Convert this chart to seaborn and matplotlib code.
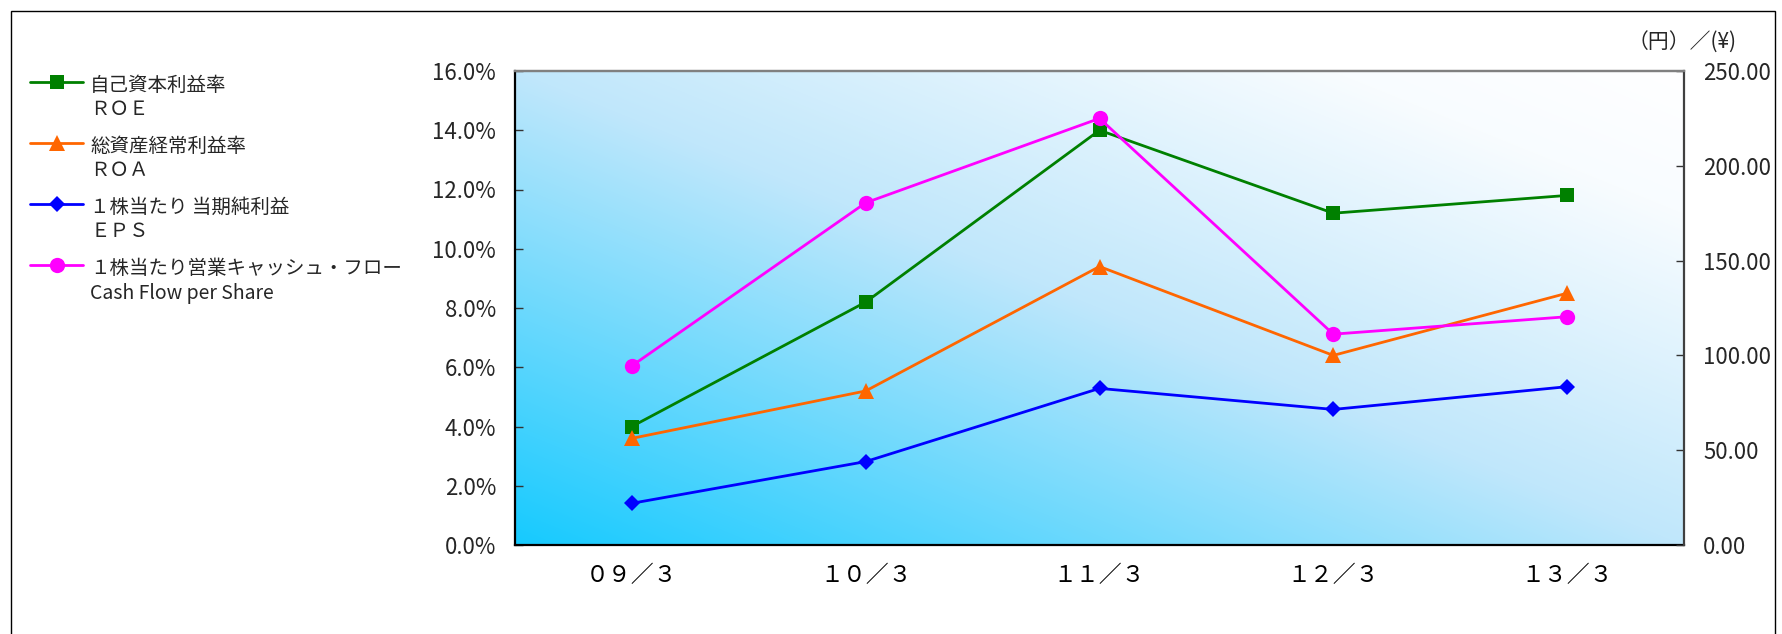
import numpy as np
import matplotlib
matplotlib.use("Agg")
import matplotlib.pyplot as plt
import seaborn as sns
from matplotlib.font_manager import FontProperties
from matplotlib.patches import Rectangle
from matplotlib.ticker import FuncFormatter

# ---------------- data ----------------
categories = ["０９／３", "１０／３", "１１／３", "１２／３", "１３／３"]
roe = [4.0, 8.2, 14.0, 11.2, 11.8]          # % (left axis)
roa = [3.6, 5.2, 9.4, 6.4, 8.5]             # % (left axis)
eps = [22.0, 44.0, 82.6, 71.5, 83.5]        # yen (right axis)
cfps = [94.5, 180.5, 225.0, 111.2, 120.4]   # yen (right axis)
legend_labels = [
    "自己資本利益率\nＲＯＥ",
    "総資産経常利益率\nＲＯＡ",
    "１株当たり 当期純利益\nＥＰＳ",
    "１株当たり営業キャッシュ・フロー\nCash Flow per Share",
]
left_ticks = [0, 2, 4, 6, 8, 10, 12, 14, 16]
right_ticks = [0, 50, 100, 150, 200, 250]
right_unit = "（円）／(¥)"

# ---------------- style ----------------
sns.set_style("white")
plt.rcParams["font.family"] = ["Noto Sans CJK JP", "DejaVu Sans"]

JP = "Noto Sans CJK JP"

W, H = 1782, 634
fig = plt.figure(figsize=(W / 100, H / 100), dpi=100)
ax = fig.add_axes([515 / W, 1 - 545 / H, (1684 - 515) / W, (545 - 71) / H])
ax2 = ax.twinx()

# gradient background
N = 300
u = np.linspace(0, 1, N)
U, V = np.meshgrid(u, u)
t = (U + V) / 2
stops = [0.0, 0.5, 0.85, 1.0]
r = np.interp(t, stops, [22, 192, 248, 255])
g = np.interp(t, stops, [202, 231, 252, 255])
b = np.interp(t, stops, [255, 251, 255, 255])
img = np.dstack([r, g, b]) / 255.0
ax.imshow(img, extent=[0, 1, 0, 1], transform=ax.transAxes, origin="lower",
          aspect="auto", zorder=0, interpolation="bilinear")

x = np.arange(len(categories))
common = dict(linewidth=2.0, legend=False, sort=False)
sns.lineplot(x=x, y=roe, ax=ax, color="#008000", marker="s", markersize=10.5,
             markeredgecolor="#008000", markeredgewidth=0, zorder=3, **common)
sns.lineplot(x=x, y=roa, ax=ax, color="#FF6600", marker="^", markersize=11.5,
             markeredgecolor="#FF6600", markeredgewidth=0, zorder=3, **common)
sns.lineplot(x=x, y=eps, ax=ax2, color="#0000FF", marker="D", markersize=7.8,
             markeredgecolor="#0000FF", markeredgewidth=0, zorder=3, **common)
sns.lineplot(x=x, y=cfps, ax=ax2, color="#FF00FF", marker="o", markersize=11,
             markeredgecolor="#FF00FF", markeredgewidth=0, zorder=4, **common)

ax.set_xlim(-0.5, len(categories) - 0.5)
ax.set_ylim(left_ticks[0], left_ticks[-1])
ax2.set_ylim(right_ticks[0], right_ticks[-1])

# x axis
ax.set_xticks(x)
ax.set_xticklabels(categories, fontproperties=FontProperties(family=JP, size=16.5))
ax.set_xticks(x[:-1] + 0.5, minor=True)
ax.tick_params(axis="x", which="major", length=0, pad=14, colors="black")
ax.tick_params(axis="x", which="minor", direction="in", length=6, width=1, color="black")

# left y axis
ax.set_yticks(left_ticks)
ax.yaxis.set_major_formatter(FuncFormatter(lambda v, p: f"{v:.1f}%"))
ax.tick_params(axis="y", direction="in", length=6, width=1, color="#333333", pad=13.7)
for lab in ax.get_yticklabels():
    lab.set_fontproperties(FontProperties(family=JP, size=16))

# right y axis
ax2.set_yticks(right_ticks)
ax2.yaxis.set_major_formatter(FuncFormatter(lambda v, p: f"{v:.2f}"))
ax2.tick_params(axis="y", direction="in", length=6, width=1, color="#333333", pad=13.7)
for lab in ax2.get_yticklabels():
    lab.set_fontproperties(FontProperties(family=JP, size=16))

ax.set_xlabel("")
ax.set_ylabel("")
ax2.set_ylabel("")

# spines
for a in (ax, ax2):
    for s in a.spines.values():
        s.set_linewidth(1.6)
ax.spines["left"].set_color("black")
ax.spines["bottom"].set_color("black")
ax.spines["top"].set_color("#808080")
ax.spines["right"].set_visible(False)
ax2.spines["left"].set_visible(False)
ax2.spines["bottom"].set_visible(False)
ax2.spines["top"].set_color("#808080")
ax2.spines["right"].set_color("#404040")

# unit label
fig.text(1737 / W, 1 - 43 / H, right_unit, ha="right", va="center",
         fontproperties=FontProperties(family=JP, size=15))

# legend
handles = [ax.lines[0], ax.lines[1], ax2.lines[0], ax2.lines[1]]
leg = fig.legend(handles, legend_labels, loc="upper left",
                 bbox_to_anchor=(30 / W, 1 - 75 / H), frameon=False,
                 borderpad=0, borderaxespad=0, handlelength=2.75,
                 handletextpad=0.35, labelspacing=0.82,
                 prop=FontProperties(family=JP, size=14))
try:
    for col in leg._legend_handle_box.get_children():
        for row in col.get_children():
            row.align = "top"
except Exception:
    pass

# outer frame
fig.add_artist(Rectangle((11 / W, -0.05), (1775 - 11) / W, 1.05 - 11 / H,
                         transform=fig.transFigure, fill=False,
                         edgecolor="black", linewidth=1.0))

fig.savefig("out.png", dpi=100)
